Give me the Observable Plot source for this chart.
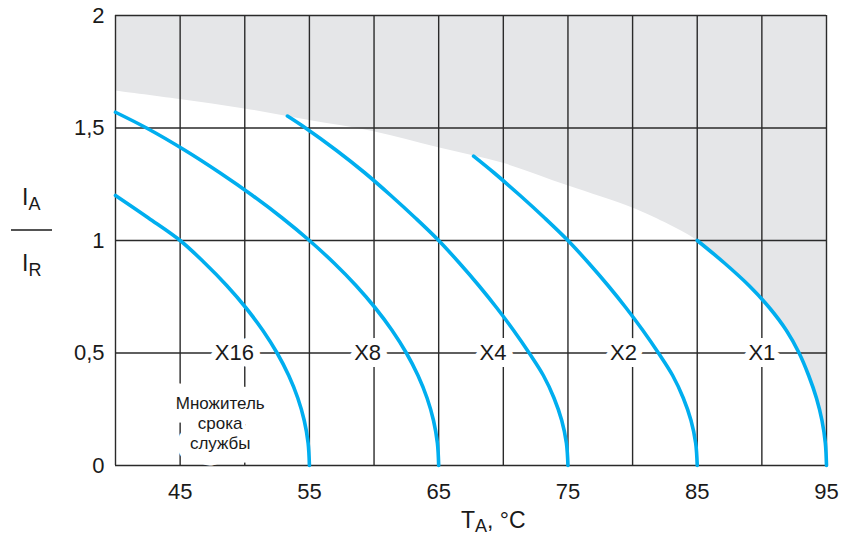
<!DOCTYPE html>
<html><head><meta charset="utf-8">
<script src="https://cdn.jsdelivr.net/npm/d3@7"></script>
<script src="https://cdn.jsdelivr.net/npm/@observablehq/plot@0.6"></script>
<style>body{margin:0;background:#fff;}</style>
</head><body><div id="chart"></div>
<script>
// Grid and ticks
const gridX = [40, 45, 50, 55, 60, 65, 70, 75, 80, 85, 90, 95];
const gridY = [0, 0.5, 1, 1.5, 2];
const xTicks = [45, 55, 65, 75, 85, 95];
const yTicks = [0, 0.5, 1, 1.5, 2];
const yTickLabels = ["0", "0,5", "1", "1,5", "2"];

// Lifetime-multiplier curves: T = ambient temperature (°C), I = IA/IR
const seriesNames = ["X16", "X8", "X4", "X2", "X1"];
const x16I = [0, 0.1, 0.2, 0.3, 0.4, 0.5, 0.6, 0.7, 0.8, 0.9, 1.0, 1.1, 1.2];
const x16T = [55, 54.9, 54.6, 54.1, 53.4, 52.5, 51.4, 50.1, 48.6, 46.9, 45.0, 42.55, 40.0];
const x8I = [0, 0.1, 0.2, 0.3, 0.4, 0.5, 0.6, 0.7, 0.8, 0.9, 1.0, 1.1, 1.2, 1.3, 1.4, 1.5, 1.57];
const x8T = [65, 64.9, 64.6, 64.1, 63.4, 62.5, 61.4, 60.1, 58.6, 56.9, 55, 52.9, 50.6, 48.1, 45.4, 42.4, 40];
const x4I = [0, 0.1, 0.2, 0.3, 0.4, 0.5, 0.6, 0.7, 0.8, 0.9, 1.0, 1.1, 1.2, 1.3, 1.4, 1.5, 1.553];
const x4T = [75, 74.88, 74.52, 73.92, 73.1, 72.0, 70.8, 69.5, 68.1, 66.6, 65.0, 63.2, 61.3, 59.3, 57.1, 54.7, 53.3];
const x2I = [0, 0.1, 0.2, 0.3, 0.4, 0.5, 0.6, 0.7, 0.8, 0.9, 1.0, 1.1, 1.2, 1.3, 1.375];
const x2T = [85, 84.88, 84.52, 83.92, 83.1, 82.0, 80.8, 79.5, 78.1, 76.6, 75.0, 73.2, 71.3, 69.3, 67.7];
const x1I = [0, 0.1, 0.2, 0.3, 0.4, 0.5, 0.6, 0.7, 0.8, 0.9, 1.0];
const x1T = [95, 94.91, 94.65, 94.22, 93.62, 92.88, 91.9, 90.6, 89.0, 87.1, 85];

// Boundary of the shaded region up to 85 °C (continues along X1 afterwards)
const boundaryT = [40, 45, 50, 55, 60, 65, 70, 75, 80, 82.5, 85];
const boundaryI = [1.665, 1.627, 1.585, 1.533, 1.483, 1.412, 1.343, 1.243, 1.145, 1.08, 1.0];
const shadeTop = 2;

// Labels
const labelT = [49.2, 59.5, 69.2, 79.3, 90.0];
const labelI = [0.5, 0.5, 0.5, 0.5, 0.5];
const noteText = "Множитель\nсрока\nслужбы";
const noteT = 48.1;
const noteI = 0.19;

// Build tables
const curveSets = [[x16T, x16I], [x8T, x8I], [x4T, x4I], [x2T, x2I], [x1T, x1I]];
const curveRows = [];
curveSets.forEach(([ts, is], k) => ts.forEach((t, j) => curveRows.push({series: seriesNames[k], T: t, I: is[j]})));

const shadeRows = boundaryT.map((t, j) => ({T: t, I: boundaryI[j]}));
for (let j = x1T.length - 2; j >= 0; j--) shadeRows.push({T: x1T[j], I: x1I[j]});

const labelRows = seriesNames.map((s, k) => ({name: s, T: labelT[k], I: labelI[k]}));

const blue = "#00aeef";
const gridColor = "#2a2a2a";
const ink = "#1a1a1a";
const ff = "'Liberation Sans', Arial, sans-serif";

const plot = Plot.plot({
  width: 842,
  height: 538,
  marginLeft: 115,
  marginRight: 16,
  marginTop: 15,
  marginBottom: 73,
  x: {domain: [40, 95]},
  y: {domain: [0, 2]},
  style: {fontFamily: ff, fontSize: "22px", color: ink, background: "#fff"},
  marks: [
    Plot.areaY(shadeRows, {x: "T", y1: "I", y2: () => shadeTop, fill: "#e5e6e8", curve: "catmull-rom"}),
    Plot.ruleX(gridX, {stroke: gridColor, strokeWidth: 1.4}),
    Plot.ruleY(gridY, {stroke: gridColor, strokeWidth: 1.4}),
    // white knock-outs behind labels
    Plot.text(labelRows, {x: "T", y: "I", text: "name", fontSize: 22, fill: "white", stroke: "white", strokeWidth: 14, strokeLinejoin: "round"}),
    Plot.text([noteText], {x: () => noteT, y: () => noteI, text: d => d, fontSize: 17, lineHeight: 1.18, fill: "white", stroke: "white", strokeWidth: 27, strokeLinejoin: "round"}),
    Plot.text(labelRows, {x: "T", y: "I", text: "name", fontSize: 22, fill: ink}),
    Plot.text([noteText], {x: () => noteT, y: () => noteI, text: d => d, fontSize: 17, lineHeight: 1.18, fill: ink}),
    Plot.line(curveRows, {x: "T", y: "I", z: "series", stroke: blue, strokeWidth: 3.6, curve: "catmull-rom"}),
    Plot.axisX(xTicks, {tickSize: 0, tickPadding: 18, label: null}),
    Plot.axisY(yTicks, {tickSize: 0, tickPadding: 11, label: null, tickFormat: d => yTickLabels[yTicks.indexOf(d)]})
  ]
});

document.getElementById("chart").appendChild(plot);

// Axis titles with subscripts
const svg = d3.select(plot);
const xt = svg.append("text").attr("x", 461).attr("y", 528).attr("text-anchor", "start")
  .attr("font-family", ff).attr("font-size", 23).attr("fill", ink);
xt.append("tspan").text("T");
xt.append("tspan").attr("dy", 4).attr("font-size", 18).text("A");
xt.append("tspan").attr("dy", -4).text(", °C");

const ya = svg.append("text").attr("x", 22).attr("y", 205).attr("text-anchor", "start")
  .attr("font-family", ff).attr("font-size", 23).attr("fill", ink);
ya.append("tspan").text("I");
ya.append("tspan").attr("dy", 5).attr("font-size", 18).text("A");
svg.append("line").attr("x1", 11).attr("x2", 52).attr("y1", 230).attr("y2", 230)
  .attr("stroke", ink).attr("stroke-width", 1.3);
const yr = svg.append("text").attr("x", 22).attr("y", 271).attr("text-anchor", "start")
  .attr("font-family", ff).attr("font-size", 23).attr("fill", ink);
yr.append("tspan").text("I");
yr.append("tspan").attr("dy", 5).attr("font-size", 18).text("R");
</script>
</body></html>
